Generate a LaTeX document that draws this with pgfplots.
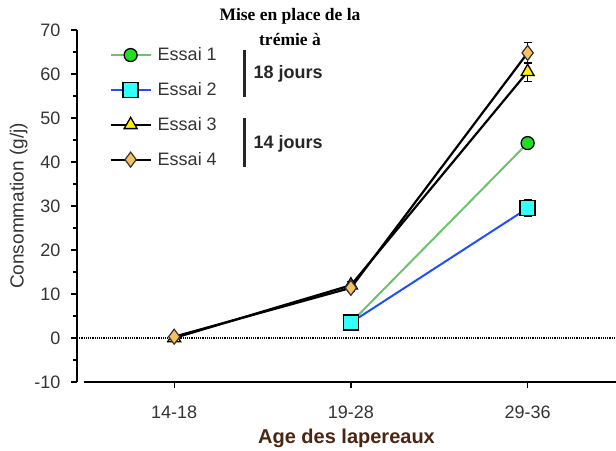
\documentclass[border=0pt]{standalone}
\usepackage{fontspec}
\setmainfont{Liberation Sans}
\newfontfamily\serifbf{Liberation Serif}
\usepackage{pgfplots}
\pgfplotsset{compat=1.18}
\definecolor{c1line}{HTML}{6CC36C}
\definecolor{c1fill}{HTML}{22DD22}
\definecolor{c2line}{HTML}{1F4FFF}
\definecolor{c2fill}{HTML}{33FFFF}
\definecolor{c3fill}{HTML}{FFF000}
\definecolor{c4fill}{HTML}{F7C066}
\definecolor{txt}{HTML}{333333}
\definecolor{agecol}{HTML}{4A2612}
\begin{document}
\begin{tikzpicture}[x=1pt,y=1pt]
\useasboundingbox (0,0) rectangle (616,450);
\begin{axis}[
  at={(77pt,68pt)}, anchor=south west,
  scale only axis, width=539pt, height=352pt,
  xmin=-0.55, xmax=2.5, ymin=-10, ymax=70,
  axis y line*=left, axis x line*=bottom,
  axis line style={line width=1.5pt,-},
  x axis line style={shorten <=7pt},
  ytick={-10,0,...,70}, minor y tick num=1,
  xtick={0,1,2}, xticklabels={14-18,19-28,29-36},
  tick align=outside, major tick length=6pt, minor tick length=4pt,
  every tick/.style={black, line width=1.3pt},
  /pgf/number format/assume math mode=true,
  tick label style={font=\fontsize{18}{18}\selectfont, text=txt},
  yticklabel style={xshift=-7pt},
  xticklabel style={yshift=-14pt},
  ylabel={Consommation (g/j)},
  ylabel style={font=\fontsize{19}{19}\selectfont, text=txt, yshift=0pt},
  xlabel={Age des lapereaux},
  xlabel style={font=\bfseries\fontsize{20}{20}\selectfont, text=agecol, yshift=-4pt},
  legend style={draw=none, fill=none, at={(0.06,0.95)}, anchor=north west,
    font=\fontsize{18}{18}\selectfont, text=txt, row sep=20pt, inner sep=0pt,
    nodes={inner xsep=6pt, inner ysep=0pt}},
  legend cell align=left,
  legend image code/.code={\draw[mark repeat=2,mark phase=2,#1] plot coordinates {(0pt,0pt) (20pt,0pt) (40pt,0pt)};},
  clip=false,
]
\addplot[black, densely dotted, line width=1.2pt, forget plot] coordinates {(-0.55,0) (2.5,0)};
\addplot[c1line, line width=2pt, mark=*, mark size=6.5pt, mark options={fill=c1fill, draw=black, line width=1.3pt}]
  coordinates {(1,3.5) (2,44.3)};
\addlegendentry{Essai 1}
\addplot[c2line, line width=2pt, mark=square*, mark size=7.5pt, mark options={fill=c2fill, draw=black, line width=1.5pt},
  error bars/.cd, y dir=both, y explicit, error bar style={black, line width=1.2pt}, error mark options={rotate=90, mark size=4pt, black, line width=1.2pt}]
  coordinates {(1,3.5) (2,29.5) +- (0,1.9)};
\addlegendentry{Essai 2}
\addplot[black, line width=2.2pt, mark=triangle*, mark size=7.5pt, mark options={fill=c3fill, draw=black, line width=1.3pt},
  error bars/.cd, y dir=both, y explicit, error bar style={black, line width=1.2pt}, error mark options={rotate=90, mark size=4pt, black, line width=1.2pt}]
  coordinates {(0,0) (1,12) +- (0,0.8) (2,60.5) +- (0,2.2)};
\addlegendentry{Essai 3}
\addplot[black, line width=2.2pt, mark=diamond*, mark size=7.5pt, mark options={fill=c4fill, draw=black!80, line width=1.2pt},
  error bars/.cd, y dir=both, y explicit, error bar style={black, line width=1.2pt}, error mark options={rotate=90, mark size=4pt, black, line width=1.2pt}]
  coordinates {(0,0.3) (1,11.4) +- (0,0.7) (2,64.8) +- (0,2.4)};
\addlegendentry{Essai 4}
\end{axis}
\draw[line width=3pt, black!85] (244,400) -- (244,353);
\draw[line width=3pt, black!85] (244,332) -- (244,283);
\node[anchor=west, font=\bfseries\fontsize{18}{18}\selectfont, text=black!85] at (250,376) {18 jours};
\node[anchor=west, font=\bfseries\fontsize{18}{18}\selectfont, text=black!85] at (250,306) {14 jours};
\node[align=center, font=\serifbf\bfseries\fontsize{17.5}{25}\selectfont] at (290,422.5) {Mise en place de la\\trémie à};
\end{tikzpicture}
\end{document}
